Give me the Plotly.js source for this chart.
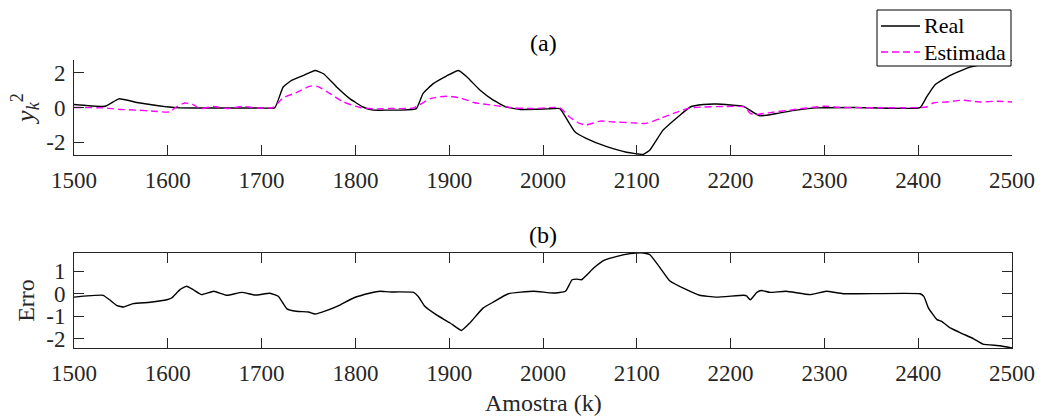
<!DOCTYPE html>
<html>
<head>
<meta charset="utf-8">
<script src="https://cdn.plot.ly/plotly-3.0.1.min.js"></script>
<style>html,body{margin:0;padding:0;background:#fff;}#chart{width:1043px;height:417px;}</style>
</head>
<body>
<div id="chart"></div>
<script>
// ---- data ----
const sampleReal = [1500,1533,1548,1567,1581,1599,1613,1650,1700,1714,1723,1732,1745,1757,1766,1780,1794,1808,1819,1836,1848,1865,1872,1883,1897,1910,1919,1933,1947,1961,1976,2004,2018,2025,2034,2046,2068,2089,2107,2114,2128,2146,2157,2171,2185,2214,2219,2231,2249,2270,2292,2334,2402,2409,2418,2434,2455,2470,2487,2500];
const real = [0.17,0.07,0.5,0.29,0.17,0.04,-0.02,-0.03,-0.03,-0.02,1.18,1.56,1.85,2.13,1.94,1.18,0.51,0.03,-0.15,-0.15,-0.15,-0.06,0.8,1.37,1.81,2.13,1.75,0.99,0.42,0.03,-0.11,-0.08,-0.06,-0.63,-1.39,-1.77,-2.25,-2.57,-2.69,-2.44,-1.30,-0.44,0.03,0.17,0.2,0.07,-0.1,-0.48,-0.34,-0.15,-0.02,0.0,0.0,0.61,1.31,1.85,2.32,2.5,2.63,2.72];

const sampleEst = [1500,1531,1549,1567,1585,1602,1609,1618,1627,1634,1649,1663,1680,1695,1712,1723,1737,1752,1760,1773,1787,1805,1823,1836,1862,1880,1897,1912,1926,1947,1968,1990,2018,2028,2039,2046,2061,2075,2096,2110,2125,2139,2157,2171,2192,2215,2221,2227,2242,2263,2299,2320,2402,2409,2416,2430,2448,2466,2484,2500];
const estimada = [0.0,-0.02,-0.11,-0.15,-0.21,-0.25,0.03,0.26,0.17,-0.06,0.06,-0.06,0.06,-0.02,0.0,0.55,0.86,1.23,1.2,0.8,0.32,0.0,-0.08,-0.06,-0.02,0.51,0.65,0.55,0.29,0.13,-0.02,-0.06,-0.02,-0.53,-0.91,-1.0,-0.78,-0.83,-0.88,-0.91,-0.63,-0.34,-0.02,0.03,0.06,0.02,-0.34,-0.4,-0.29,-0.15,0.07,0.0,0.0,0.03,0.26,0.32,0.42,0.32,0.36,0.32];

const sampleErr = [1500,1531,1538,1546,1553,1563,1581,1599,1604,1613,1620,1627,1636,1649,1663,1679,1693,1709,1718,1727,1737,1750,1757,1769,1784,1798,1816,1826,1836,1862,1867,1874,1886,1901,1913,1922,1936,1947,1963,1990,2011,2024,2031,2036,2041,2054,2065,2079,2093,2107,2114,2125,2135,2153,2167,2185,2214,2217,2221,2228,2233,2242,2259,2285,2302,2320,2402,2406,2411,2420,2425,2434,2448,2459,2469,2487,2500];
const erro = [-0.15,-0.07,-0.27,-0.53,-0.59,-0.44,-0.38,-0.27,-0.19,0.18,0.33,0.18,-0.04,0.11,-0.07,0.06,-0.06,0.02,-0.12,-0.67,-0.78,-0.81,-0.9,-0.75,-0.49,-0.19,0.03,0.11,0.08,0.06,-0.12,-0.56,-0.93,-1.3,-1.63,-1.3,-0.64,-0.37,0.0,0.11,0.03,0.11,0.62,0.65,0.62,1.14,1.48,1.66,1.78,1.81,1.73,1.14,0.58,0.18,-0.07,-0.15,-0.07,-0.1,-0.27,0.06,0.14,0.06,0.11,-0.04,0.11,0.0,0.0,-0.12,-0.64,-1.15,-1.23,-1.52,-1.79,-2.0,-2.24,-2.31,-2.41];

const xTicks = [1500,1600,1700,1800,1900,2000,2100,2200,2300,2400,2500];
const yTicksA = [-2,0,2];
const yTickTextA = ['-2','0','2'];
const yTicksB = [-2,-1,0,1];
const yTickTextB = ['-2','-1','0','1'];
const seriesNames = ['Real','Estimada'];
const panelTitles = ['(a)','(b)'];
const xTitle = 'Amostra (k)';
const yTitleA = '<i>y</i><sub><i>k</i></sub><sup>2</sup>';
const yTitleB = 'Erro';

// ---- chart ----
const FONT = 'Liberation Serif, Times New Roman, serif';
const AX = '#262626';
const COLORS = ['#000000', '#ff00ff'];
const DASHES = ['solid', '7px,4px'];

const traces = [
  {x: sampleReal, y: real, name: seriesNames[0], type: 'scatter', mode: 'lines', showlegend: false,
   line: {color: COLORS[0], width: 1.4, shape: 'spline', smoothing: 0.4}, xaxis: 'x', yaxis: 'y'},
  {x: sampleEst, y: estimada, name: seriesNames[1], type: 'scatter', mode: 'lines', showlegend: false,
   line: {color: COLORS[1], width: 1.4, dash: DASHES[1], shape: 'spline', smoothing: 0.6}, xaxis: 'x', yaxis: 'y'},
  {x: sampleErr, y: erro, name: 'Erro', type: 'scatter', mode: 'lines', showlegend: false,
   line: {color: COLORS[0], width: 1.4, shape: 'spline', smoothing: 0.4}, xaxis: 'x2', yaxis: 'y2'}
];

const baseX = {
  range: [1500, 2500], tickmode: 'array', tickvals: xTicks, ticktext: xTicks.map(String),
  showgrid: false, zeroline: false, showline: true, linecolor: AX, linewidth: 1,
  ticks: 'inside', ticklen: 10, tickcolor: AX, tickwidth: 1, ticklabelstandoff: 4,
  tickfont: {family: FONT, size: 23, color: AX}
};
const baseY = {
  showgrid: false, zeroline: false, showline: true, linecolor: AX, linewidth: 1,
  ticks: 'inside', ticklen: 10, tickcolor: AX, tickwidth: 1, ticklabelstandoff: 3,
  tickfont: {family: FONT, size: 23, color: AX}, tickmode: 'array'
};

// legend box (paper coordinates; plot area spans 74..1012 px wide, 60..348 px tall)
const PW = 938, PH = 288, PL = 74, PB = 348;
const px = v => (v - PL) / PW;
const py = v => (PB - v) / PH;

const shapes = [
  {type: 'rect', xref: 'paper', yref: 'paper', x0: px(877), x1: px(1011), y0: py(66), y1: py(10),
   fillcolor: '#ffffff', line: {color: '#000000', width: 1}, layer: 'above'}
];
const legendAnn = [];
seriesNames.forEach((nm, i) => {
  const rowY = [26, 52][i];
  shapes.push({type: 'line', xref: 'paper', yref: 'paper', x0: px(881), x1: px(920), y0: py(rowY), y1: py(rowY),
               line: {color: COLORS[i], width: 1.4, dash: DASHES[i]}, layer: 'above'});
  legendAnn.push({text: nm, xref: 'paper', yref: 'paper', x: px(922), y: py(rowY), xanchor: 'left', yanchor: 'middle',
                  showarrow: false, font: {family: FONT, size: 22, color: '#000000'}});
});

const layout = {
  width: 1043, height: 417,
  margin: {l: 74, r: 31, t: 60, b: 69},
  paper_bgcolor: '#ffffff', plot_bgcolor: '#ffffff',
  showlegend: false,
  xaxis: Object.assign({}, baseX, {anchor: 'y', domain: [0, 1], mirror: false}),
  yaxis: Object.assign({}, baseY, {anchor: 'x', domain: [0.670, 1], range: [-2.73, 2.73],
           tickvals: yTicksA, ticktext: yTickTextA, mirror: false,
           title: {text: yTitleA, font: {family: FONT, size: 26, color: AX}, standoff: 4}}),
  xaxis2: Object.assign({}, baseX, {anchor: 'y2', domain: [0, 1], mirror: 'ticks'}),
  yaxis2: Object.assign({}, baseY, {anchor: 'x2', domain: [0, 0.330], range: [-2.41, 1.81],
           tickvals: yTicksB, ticktext: yTickTextB, mirror: 'ticks',
           title: {text: yTitleB, font: {family: FONT, size: 24, color: AX}, standoff: 4}}),
  shapes: shapes,
  annotations: [
    {text: panelTitles[0], xref: 'paper', yref: 'paper', x: 0.5, y: py(43), xanchor: 'center', yanchor: 'middle',
     showarrow: false, font: {family: FONT, size: 24, color: '#000000'}},
    {text: panelTitles[1], xref: 'paper', yref: 'paper', x: 0.5, y: py(235), xanchor: 'center', yanchor: 'middle',
     showarrow: false, font: {family: FONT, size: 24, color: '#000000'}},
    {text: xTitle, xref: 'paper', yref: 'paper', x: 0.5, y: py(403), xanchor: 'center', yanchor: 'middle',
     showarrow: false, font: {family: FONT, size: 24, color: AX}}
  ].concat(legendAnn)
};

Plotly.newPlot('chart', traces, layout, {staticPlot: true, displayModeBar: false});
</script>
</body>
</html>
